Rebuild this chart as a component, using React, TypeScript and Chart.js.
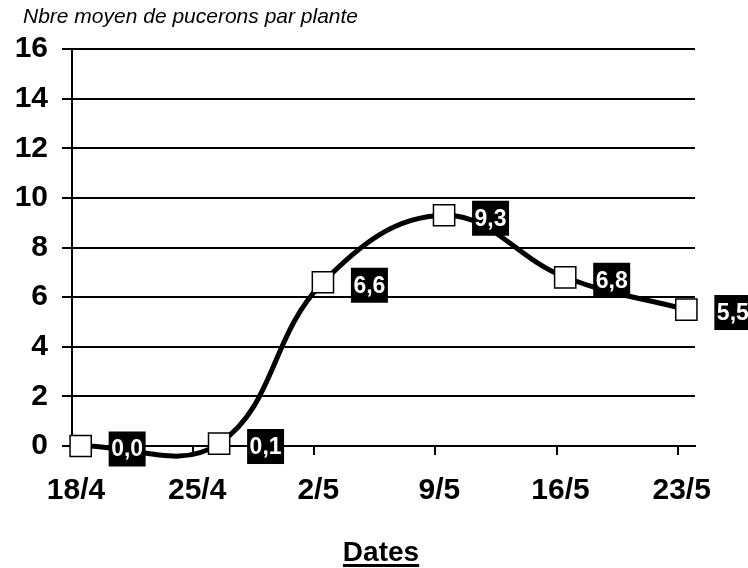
import React, { useEffect, useRef } from "react";
import { Chart, registerables } from "chart.js";

Chart.register(...registerables);

// ---- data ----
const DATES = ["18/4", "26/4", "2/5", "9/5", "16/5", "23/5"];
const VALUES = [0.0, 0.1, 6.6, 9.3, 6.8, 5.5];
const TICK_LABELS = ["18/4", "25/4", "2/5", "9/5", "16/5", "23/5"];
const AXIS_START = "18/4";
const AXIS_END = "24/5";
const Y_MIN = 0;
const Y_MAX = 16;
const Y_STEP = 2;
const Y_TITLE = "Nbre moyen de pucerons par plante";
const X_TITLE = "Dates";

const FONT = "'Liberation Sans', Arial, Helvetica, sans-serif";

function toUTC(s: string): number {
  const [d, m] = s.split("/").map(Number);
  return Date.UTC(2000, m - 1, d);
}
function dayOffset(s: string): number {
  return Math.round((toUTC(s) - toUTC(AXIS_START)) / 86400000);
}
function fmt(v: number): string {
  return v.toFixed(1).replace(".", ",");
}

const textPlugin = {
  id: "textPlugin",
  afterDatasetsDraw(chart: any) {
    const ctx = chart.ctx as CanvasRenderingContext2D;
    const meta = chart.getDatasetMeta(0);
    ctx.save();
    ctx.font = `bold 23px ${FONT}`;
    ctx.textBaseline = "middle";
    ctx.textAlign = "left";
    meta.data.forEach((pt: any, i: number) => {
      const label = fmt(VALUES[i]);
      const w = ctx.measureText(label).width;
      const bx = pt.x + 28;
      const bh = 35;
      const by = pt.y + 3 - bh / 2;
      ctx.fillStyle = "#000";
      ctx.fillRect(bx, by, w + 5, bh);
      ctx.fillStyle = "#fff";
      ctx.fillText(label, bx + 2.5, by + bh / 2 + 1);
    });
    ctx.restore();
  },
  afterDraw(chart: any) {
    const ctx = chart.ctx as CanvasRenderingContext2D;
    ctx.save();
    ctx.fillStyle = "#000";
    ctx.font = `italic 21px ${FONT}`;
    ctx.textBaseline = "alphabetic";
    ctx.textAlign = "left";
    ctx.fillText(Y_TITLE, 23, 23);

    ctx.font = `bold 28px ${FONT}`;
    ctx.textAlign = "center";
    const cx = 381;
    const base = 561;
    ctx.fillText(X_TITLE, cx, base);
    const w = ctx.measureText(X_TITLE).width;
    ctx.fillRect(cx - w / 2, base + 3, w, 3);
    ctx.restore();
  },
};

export default function App() {
  const ref = useRef<HTMLCanvasElement | null>(null);

  useEffect(() => {
    document.body.style.margin = "0";
    const canvas = ref.current;
    if (!canvas) return;
    const points = DATES.map((d, i) => ({ x: dayOffset(d) + 0.5, y: VALUES[i] }));
    const tickVals = TICK_LABELS.map((l) => dayOffset(l));

    const chart = new Chart(canvas, {
      type: "line",
      data: {
        datasets: [
          {
            data: points,
            borderColor: "#000",
            borderWidth: 5,
            tension: 0.4,
            capBezierPoints: false,
            clip: false as any,
            pointStyle: "rect",
            pointRadius: 15,
            pointHoverRadius: 15,
            pointBackgroundColor: "#fff",
            pointBorderColor: "#000",
            pointBorderWidth: 1.5,
          } as any,
        ],
      },
      options: {
        responsive: false,
        animation: false,
        events: [],
        layout: { padding: { top: 49, right: 53, left: 0, bottom: 0 } },
        plugins: {
          legend: { display: false },
          tooltip: { enabled: false },
          title: { display: false },
        },
        scales: {
          x: {
            type: "linear",
            min: 0,
            max: dayOffset(AXIS_END),
            afterFit: (s: any) => {
              s.height = 122;
            },
            afterBuildTicks: (s: any) => {
              s.ticks = tickVals.map((v) => ({ value: v }));
            },
            grid: {
              drawOnChartArea: false,
              drawTicks: true,
              tickLength: 9,
              color: "#000",
              lineWidth: 2,
            },
            border: { color: "#000", width: 2 },
            ticks: {
              color: "#000",
              font: { family: FONT, size: 30, weight: "bold" },
              padding: 18,
              labelOffset: 4,
              maxRotation: 0,
              autoSkip: false,
              callback: (v: any) => {
                const idx = tickVals.indexOf(Number(v));
                return idx >= 0 ? TICK_LABELS[idx] : "";
              },
            },
          },
          y: {
            min: Y_MIN,
            max: Y_MAX,
            afterFit: (s: any) => {
              s.width = 72;
            },
            grid: {
              color: "#000",
              lineWidth: 2,
              tickLength: 10,
              drawTicks: true,
            },
            border: { color: "#000", width: 2 },
            ticks: {
              stepSize: Y_STEP,
              color: "#000",
              font: { family: FONT, size: 30, weight: "bold" },
              padding: 14,
            },
          },
        },
      },
      plugins: [textPlugin],
    } as any);

    return () => chart.destroy();
  }, []);

  return (
    <div style={{ position: "fixed", left: 0, top: 0, width: 748, height: 568, background: "#fff" }}>
      <canvas ref={ref} width={748} height={568} style={{ width: 748, height: 568, display: "block" }} />
    </div>
  );
}
